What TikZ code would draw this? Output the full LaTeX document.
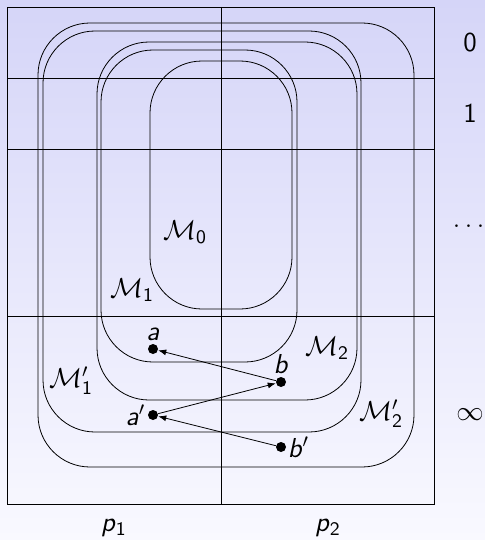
\RequirePackage{fix-cm}
\documentclass[tikz,border=0pt,11pt]{standalone}
\usepackage{amsmath}
\usepackage{amssymb}
\usepackage{xcolor}
\usepackage{tikz}
\usetikzlibrary{arrows.meta, positioning}

\definecolor{bgtop}{RGB}{213,213,248}
\definecolor{bgbottom}{RGB}{249,249,255}

\newcommand{\sfit}[1]{\textsf{\itshape #1}}
\newcommand{\sfM}[1]{$\mathcal{M}_{\mathsf{#1}}$}
\newcommand{\sfMp}[1]{$\mathcal{M}'_{\mathsf{#1}}$}

\begin{document}
\begin{tikzpicture}[
    x=0.5pt, y=-0.5pt,
    every node/.style={font=\fontsize{13.7}{16.4}\selectfont},
    region/.style={draw, rounded corners=26pt},
    point/.style={circle, fill, inner sep=0pt, minimum size=5pt},
    arrow/.style={-{Latex[length=4pt,width=3pt]}},
    lbl/.style={inner sep=2pt}
]

% Background
\useasboundingbox (0,0) rectangle (485,540);
\fill[top color=bgtop, bottom color=bgbottom] (0,0) rectangle (485,540);

% Grid
\draw (7.5,7) rectangle (434,504);
\draw (7.5,78) -- (434,78);
\draw (7.5,149) -- (434,149);
\draw (7.5,316) -- (434,316);
\draw (221,7) -- (221,504);

% Regions
\draw[region] (38,23) rectangle (414,467);
\draw[region] (43,31) rectangle (361,432);
\draw[region] (97,42) rectangle (357,400);
\draw[region] (101,50) rectangle (297,362);
\draw[region] (150,61) rectangle (292,309);

\node (m0) at (185,232) {\sfM{0}};
\node (m1) at (132,290) {\sfM{1}};
\node (m2) at (327,348) {\sfM{2}};
\node (m1p) at (71,381) {\sfMp{1}};
\node (m2p) at (381,414) {\sfMp{2}};

% Rows and columns
\node (r0) at (470,43) {$\mathsf{0}$};
\node (r1) at (470,114) {$\mathsf{1}$};
\node (rdots) at (471,226) {$\dots$};
\node (rinf) at (470,415) {$\infty$};
\node (p1) at (114,528) {\sfit{p}$_{\mathsf{1}}$};
\node (p2) at (328,528) {\sfit{p}$_{\mathsf{2}}$};

% Points
\node[point] (a) at (153,349) {};
\node[point] (b) at (281,382) {};
\node[point] (ap) at (153,415) {};
\node[point] (bp) at (281,447) {};

\node[lbl, above=-1pt of a] {\sfit{a}};
\node[lbl, above=-1pt of b] {\sfit{b}};
\node[lbl, left=-1pt of ap] {\sfit{a}$'$};
\node[lbl, right=-1.5pt of bp] {\sfit{b}$'$};

% Arrows
\draw[arrow] (b) -- (a);
\draw[arrow] (ap) -- (b);
\draw[arrow] (bp) -- (ap);

\end{tikzpicture}
\end{document}
